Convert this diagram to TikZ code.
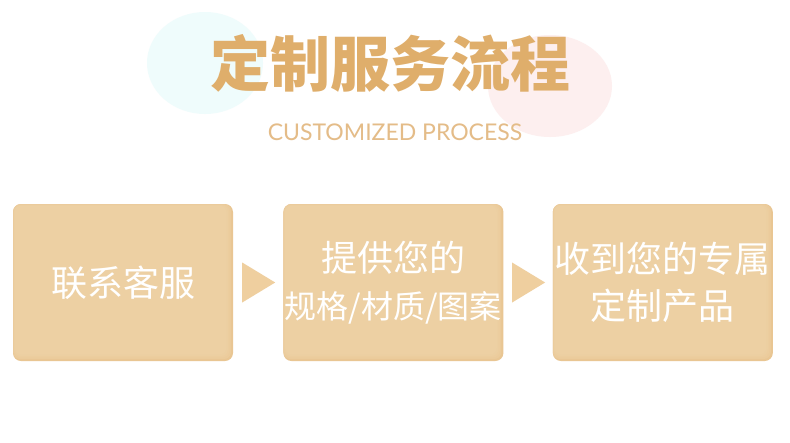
\documentclass[tikz,border=0pt]{standalone}
\usepackage{fontspec}
\newfontfamily\cjk{Noto Sans CJK SC}
\newfontfamily\latin{Lato}
\usetikzlibrary{positioning,calc}
\definecolor{boxfill}{HTML}{EDD0A3}
\definecolor{boxedge}{HTML}{E4B87C}
\definecolor{titlecol}{HTML}{DFAE6B}
\definecolor{subcol}{HTML}{E4BC88}
\definecolor{arrowcol}{HTML}{EFCF9F}
\definecolor{bubblecyan}{HTML}{EFFCFC}
\definecolor{bubblepink}{HTML}{FDEFEF}
\tikzset{
	stepbox/.style={rounded corners=8pt, fill=boxfill!60!boxedge, minimum height=157pt, text width=220pt,
		text=white, align=center, inner sep=0pt, font=\cjk\fontsize{36}{47}\selectfont,
		path picture={
			\foreach \k/\c in {0/80,1/87,2/94,3/100} {
				\fill[boxfill!\c!boxedge, rounded corners=7pt]
				([xshift=0.5*\k pt,yshift=-0.5*\k pt]path picture bounding box.north west) rectangle
				([xshift=-2pt-1.5*\k pt,yshift=2pt+1.5*\k pt]path picture bounding box.south east);
			}
		}},
	steparrow/.style={fill=arrowcol}
}
\begin{document}
\begin{tikzpicture}[x=1pt,y=-1pt]
	\useasboundingbox (0,0) rectangle (790,442);
	\fill[white] (0,0) rectangle (790,442);
	% background bubbles
	\fill[bubblecyan] (205,63) ellipse [x radius=58, y radius=51];
	\fill[bubblepink] (550,86) ellipse [x radius=62, y radius=51];
	% heading
	\node [text=titlecol, font=\cjk\bfseries\fontsize{60}{60}\selectfont] (title) at (390,63) {定制服务流程};
	\node [text=subcol, font=\latin\fontsize{23}{23}\selectfont] (sub) at (395,132) {CUSTOMIZED PROCESS};
	% steps
	\node [stepbox] (contact) at (123,282.5) {联系客服};
	\node [stepbox, right=50pt of contact] (spec) {提供您的\\{\fontsize{32}{32}\selectfont 规格/材质/图案}};
	\node [stepbox, right=49pt of spec] (receive) {收到您的专属\\定制产品};
	\coordinate (m1) at ($(contact.east)!0.5!(spec.west)$);
	\coordinate (m2) at ($(spec.east)!0.5!(receive.west)$);
	\foreach \m in {m1,m2}
		\fill[steparrow] ([xshift=-16pt,yshift=20pt]\m) -- ([xshift=17pt]\m) -- ([xshift=-16pt,yshift=-20pt]\m) -- cycle;
\end{tikzpicture}
\end{document}
